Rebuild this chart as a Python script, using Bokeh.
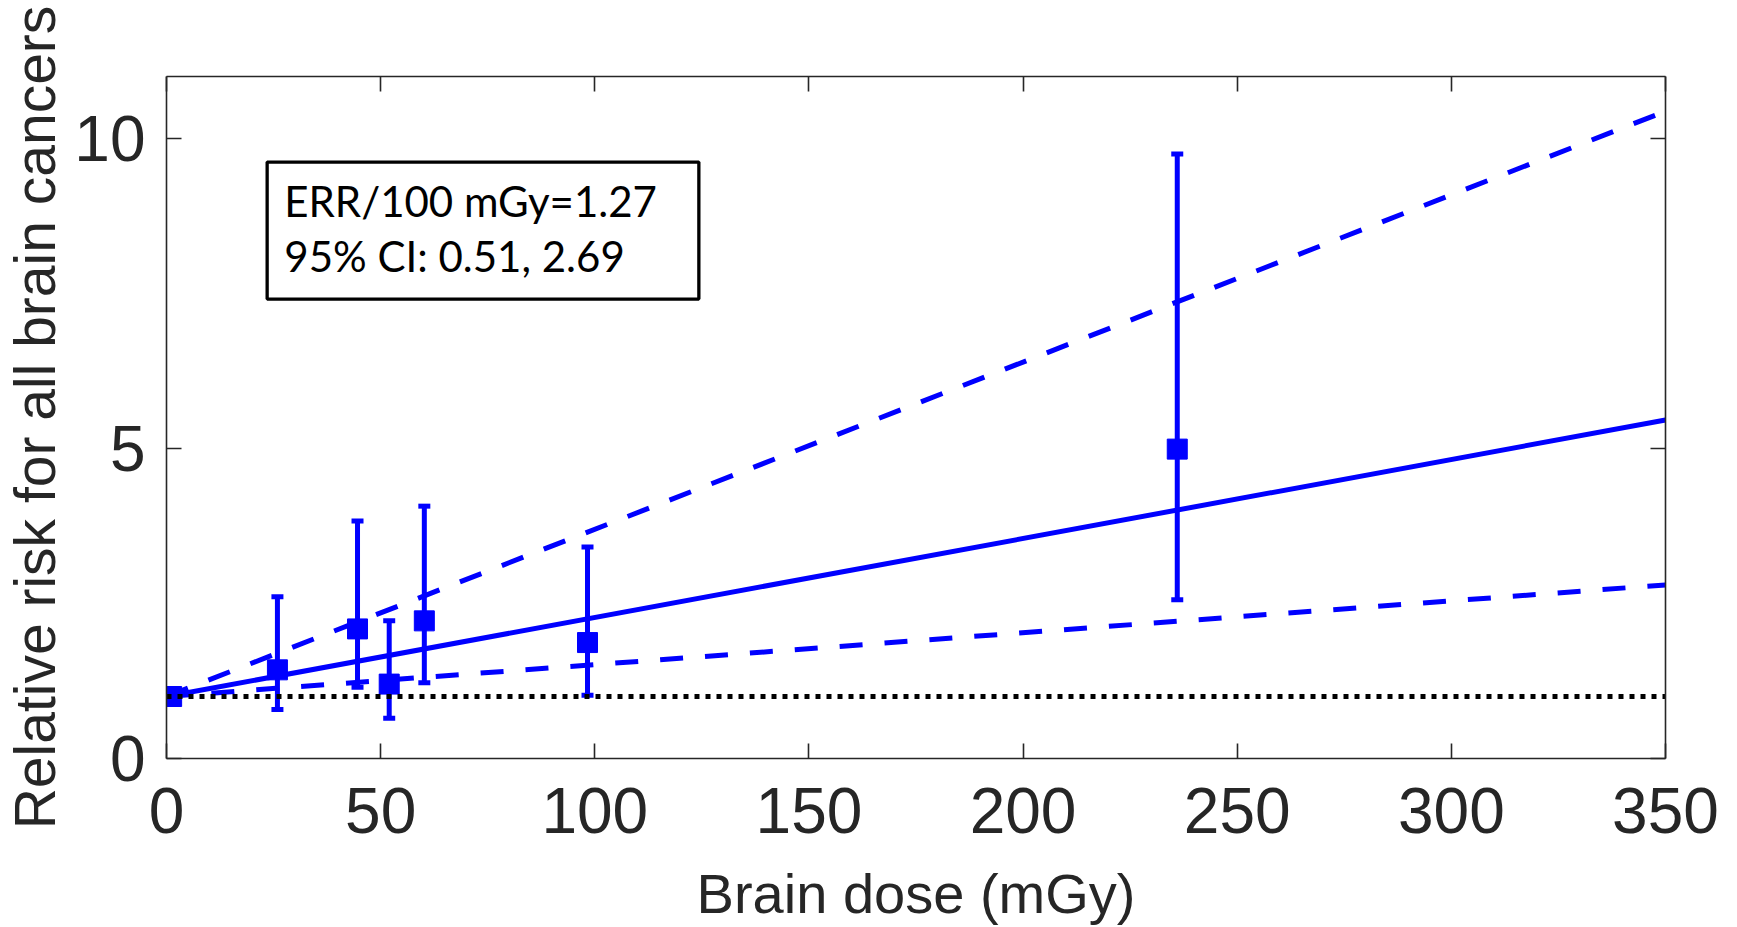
from bokeh.plotting import figure
from bokeh.models import (FixedTicker, LinearAxis, Range1d, Whisker, ColumnDataSource,
                          BoxAnnotation, Label, TeeHead)
from bokeh.embed import file_html
from bokeh.resources import INLINE

# ---- data ----
dose = [1.2, 25.9, 44.6, 52.0, 60.2, 98.3, 236.0]
rr = [1.0, 1.43, 2.09, 1.20, 2.22, 1.87, 4.99]
rr_lower = [1.0, 0.79, 1.15, 0.65, 1.22, 1.02, 2.56]
rr_upper = [1.0, 2.61, 3.83, 2.22, 4.07, 3.41, 9.75]

fit_dose = [0, 350]
fit_central = [1.0, 5.46]
fit_lower = [1.0, 2.80]
fit_upper = [1.0, 10.44]
baseline_rr = [1.0, 1.0]

x_ticks = [0, 50, 100, 150, 200, 250, 300, 350]
y_ticks = [0, 5, 10]
x_label = "Brain dose (mGy)"
y_label = "Relative risk for all brain cancers"
note_line1 = "ERR/100 mGy=1.27"
note_line2 = "95% CI: 0.51, 2.69"

BLUE = "#0000FF"
AX = "#262626"

p = figure(width=1737, height=927, x_range=Range1d(0, 350), y_range=Range1d(0, 11),
           min_border_left=165, min_border_right=72, min_border_top=76, min_border_bottom=169,
           output_backend="svg", toolbar_location=None)
p.grid.visible = False
p.outline_line_color = None
p.background_fill_color = "white"
p.border_fill_color = "white"

def style_axis(ax, ticks, show_labels):
    ax.ticker = FixedTicker(ticks=ticks)
    ax.major_tick_in = 15
    ax.major_tick_out = 0
    ax.minor_tick_line_color = None
    ax.axis_line_color = AX
    ax.axis_line_width = 1.6
    ax.major_tick_line_color = AX
    ax.major_tick_line_width = 1.6
    if show_labels:
        ax.major_label_text_font = "Liberation Sans"
        ax.major_label_text_font_size = "64px"
        ax.major_label_text_color = AX
        ax.axis_label_text_font = "Liberation Sans"
        ax.axis_label_text_font_size = "56px"
        ax.axis_label_text_font_style = "normal"
        ax.axis_label_text_color = AX
    else:
        ax.major_label_text_font_size = "10px"
        ax.major_label_text_color = None
        ax.major_label_standoff = 0

style_axis(p.xaxis[0], x_ticks, True)
style_axis(p.yaxis[0], y_ticks, True)
p.xaxis[0].axis_label = x_label
p.yaxis[0].axis_label = y_label
p.xaxis[0].major_label_standoff = 29
p.xaxis[0].axis_label_standoff = 26
p.yaxis[0].major_label_standoff = 21
p.yaxis[0].axis_label_standoff = 4
p.yaxis[0].axis_label_text_font_size = "57px"

top_ax = LinearAxis()
style_axis(top_ax, x_ticks, False)
right_ax = LinearAxis()
style_axis(right_ax, y_ticks, False)
p.add_layout(top_ax, "above")
p.add_layout(right_ax, "right")

src = ColumnDataSource(dict(dose=dose, rr=rr, lower=rr_lower, upper=rr_upper))

whisk = Whisker(source=src, base="dose", lower="lower", upper="upper",
                line_color=BLUE, line_width=5, level="underlay",
                upper_head=TeeHead(size=12, line_color=BLUE, line_width=5),
                lower_head=TeeHead(size=12, line_color=BLUE, line_width=5))
p.add_layout(whisk)

p.line(fit_dose, fit_central, line_color=BLUE, line_width=5)
p.line(fit_dose, fit_upper, line_color=BLUE, line_width=5, line_dash="23 22")
p.line(fit_dose, fit_lower, line_color=BLUE, line_width=5, line_dash="23 22")

p.scatter("dose", "rr", source=src, marker="square", size=20, color=BLUE)

p.line(fit_dose, baseline_rr, line_color="black", line_width=5, line_dash="5 6")

box = BoxAnnotation(left=23.5, right=124.3, top=9.62, bottom=7.41,
                    fill_color="white", fill_alpha=1.0, line_color="black",
                    line_alpha=1.0, line_width=3.3)
p.add_layout(box)
p.add_layout(Label(x=27.5, y=8.99, text=note_line1, text_font="Lato",
                   text_font_size="42px", text_color="black", text_baseline="alphabetic"))
p.add_layout(Label(x=27.5, y=8.10, text=note_line2, text_font="Lato",
                   text_font_size="42px", text_color="black", text_baseline="alphabetic"))

open("out.html", "w").write(file_html(p, INLINE))
